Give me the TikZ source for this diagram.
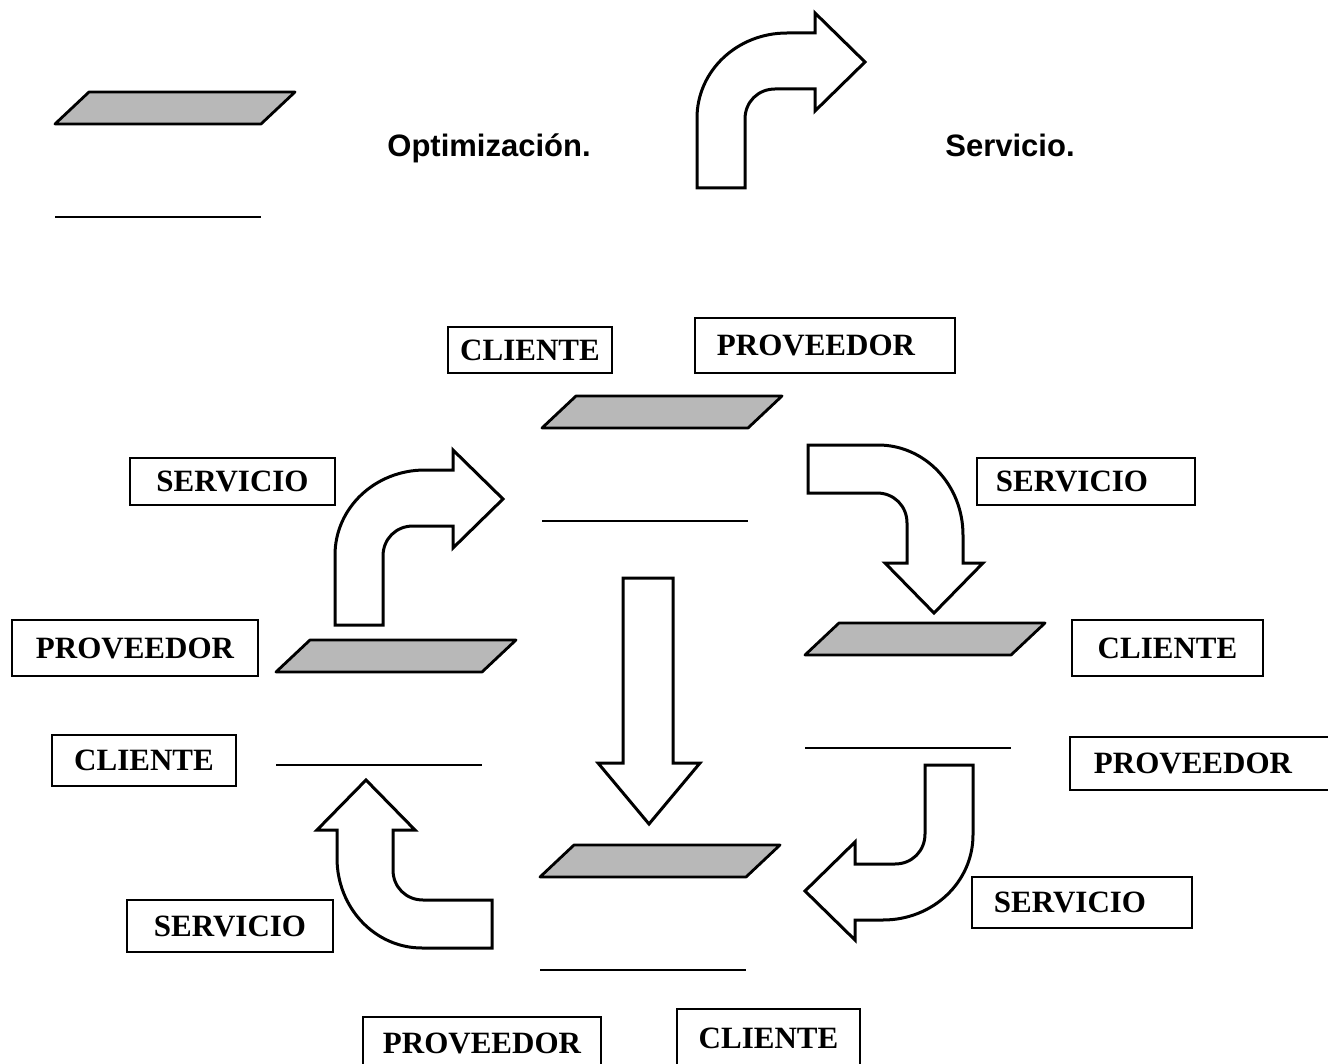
\documentclass[tikz,border=0pt]{standalone}
\usepackage{fontspec}
\setmainfont{Liberation Serif}
\newfontfamily\legendfont{Liberation Sans}
\tikzset{
  tag/.style={draw, line width=2pt, inner sep=0pt,
    font=\bfseries\fontsize{31}{36}\selectfont},
  legendtext/.style={font=\legendfont\bfseries\fontsize{31}{36}\selectfont,
    anchor=base, inner sep=0pt},
  blockarrow/.style={draw, line width=3pt, fill=white, line join=miter},
  procfill/.style={draw, fill=black!28, line width=2.8pt, line join=round},
  procline/.style={line width=2.2pt},
  % bent block arrow: tail at the origin, rising, turning right
  bent/.pic={
    \draw[blockarrow] (0,0) -- (0,-70)
      .. controls (0,-117) and (40,-155) .. (90,-155)
      -- (118,-155) -- (118,-175) -- (168,-126) -- (118,-77) -- (118,-99)
      -- (78,-99) .. controls (61,-99) and (48,-86) .. (48,-69)
      -- (48,0) -- cycle;
  },
  % process symbol: shaded parallelogram lid and base line
  proc/.pic={
    \draw[procfill] (0,0) -- (34,-32) -- (240,-32) -- (206,0) -- cycle;
    \draw[procline] (0,93) -- (206,93);
  }
}
% text set a little left of the box centre
\newcommand\lefttext[2]{\kern-#1pt #2}
\begin{document}
\begin{tikzpicture}[x=1pt,y=-1pt]
\useasboundingbox (0,0) rectangle (1328,1064);

% legend
\pic at (55,124) {proc};
\node[legendtext] (optim) at (489,157) {Optimización.};
\pic at (697,188) {bent};
\node[legendtext] (serv) at (1010,157) {Servicio.};

% process symbols of the cycle
\pic at (542,428) {proc};
\pic at (276,672) {proc};
\pic at (805,655) {proc};
\pic at (540,877) {proc};

% block arrows of the cycle
\pic at (335,625) {bent};
\pic[rotate=-90] at (808,445) {bent};
\pic[rotate=180] at (973,765) {bent};
\pic[rotate=90] at (492,948) {bent};
\draw[blockarrow] (623,578) -- (673,578) -- (673,763) -- (700,763)
  -- (649,824) -- (598,763) -- (623,763) -- cycle;

% labels
\node[tag, minimum width=164pt, minimum height=46pt] (cliT) at (530,350) {CLIENTE};
\node[tag, minimum width=260pt, minimum height=55pt] (proT) at (825,345.5) {\lefttext{18}{PROVEEDOR}};
\node[tag, minimum width=205pt, minimum height=47pt] (serLT) at (232.5,481.5) {SERVICIO};
\node[tag, minimum width=218pt, minimum height=47pt] (serRT) at (1086,481.5) {\lefttext{28}{SERVICIO}};
\node[tag, minimum width=246pt, minimum height=56pt] (proL) at (135,648) {PROVEEDOR};
\node[tag, minimum width=191pt, minimum height=56pt] (cliR) at (1167.5,648) {CLIENTE};
\node[tag, minimum width=184pt, minimum height=51pt] (cliL) at (144,760.5) {CLIENTE};
\node[tag, minimum width=262pt, minimum height=53pt] (proR) at (1201,763.5) {\lefttext{16}{PROVEEDOR}};
\node[tag, minimum width=220pt, minimum height=51pt] (serRB) at (1082,902.5) {\lefttext{24}{SERVICIO}};
\node[tag, minimum width=206pt, minimum height=52pt] (serLB) at (230,926) {SERVICIO};
\node[tag, minimum width=238pt, minimum height=53pt] (proB) at (482,1043.5) {PROVEEDOR};
\node[tag, minimum width=183pt, minimum height=59pt] (cliB) at (768.5,1038.5) {CLIENTE};
\end{tikzpicture}
\end{document}
